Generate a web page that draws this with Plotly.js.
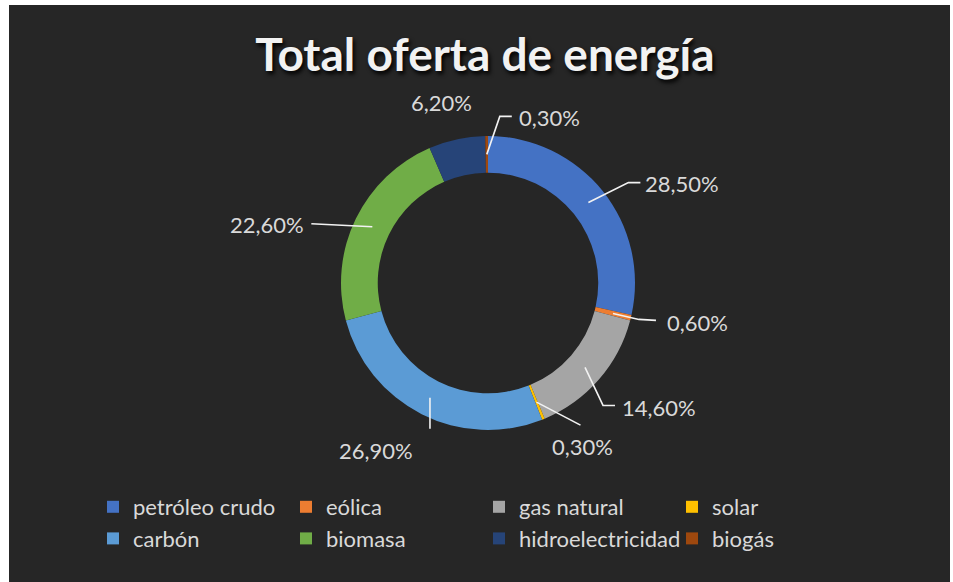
<!DOCTYPE html>
<html><head><meta charset="utf-8">
<script src="https://cdn.plot.ly/plotly-3.0.1.min.js"></script>
<style>html,body{margin:0;padding:0;background:#fff}</style>
</head><body><div id="chart" style="width:953px;height:582px"></div>
<script>
// ---- data ----
const categories = ["petróleo crudo","eólica","gas natural","solar","carbón","biomasa","hidroelectricidad","biogás"];
const values = [28.5, 0.6, 14.6, 0.3, 26.9, 22.6, 6.2, 0.3];
const sliceColors = ["#4472C4","#ED7D31","#A5A5A5","#FFC000","#5B9BD5","#70AD47","#264478","#9E480E"];
const chartTitle = "Total oferta de energía";

// ---- layout constants (pixels) ----
const W = 953, H = 582;
const cx = 488, cy = 283, R = 147, hole = 0.75;
// leader-line polyline offsets (from slice anchor) and text offset (from last point)
const labelStyle = [
  {pts:[[40,-20],[52,-20]], t:[3,1], xa:"left"},
  {pts:[[26,6],[43,7]], t:[9,2], xa:"left"},
  {pts:[[18,38],[30,38]], t:[5,2], xa:"left"},
  {pts:[[44,23]], t:[2,21], xa:"center"},
  {pts:[[0,31]], t:[-54,22], xa:"center"},
  {pts:[[-61,-3]], t:[-5,1], xa:"right"},
  {pts:[], t:[-19,-55], xa:"center"},
  {pts:[[13,-38],[25,-38]], t:[5,1], xa:"left"}
];

const px = x => x / W;
const py = y => 1 - y / H;

const total = values.reduce((a,b)=>a+b,0);
const rMid = R * (1 + hole) / 2;
const shapes = [{
  type:"rect", xref:"paper", yref:"paper", layer:"below",
  x0:px(9), x1:px(950), y0:0, y1:py(5),
  fillcolor:"#262626", line:{width:0}
}];
const annotations = [];
let cum = 0;
values.forEach((v,i)=>{
  const mid = (cum + v/2) / total * 2 * Math.PI;
  cum += v;
  const ax = cx + rMid * Math.sin(mid);
  const ay = cy - rMid * Math.cos(mid);
  const st = labelStyle[i];
  let last = [ax, ay];
  if (st.pts.length) {
    let d = "M" + px(ax) + "," + py(ay);
    st.pts.forEach(p=>{ last = [ax+p[0], ay+p[1]]; d += " L" + px(last[0]) + "," + py(last[1]); });
    shapes.push({type:"path", xref:"paper", yref:"paper", path:d, line:{color:"#f2f2f2", width:1.6}});
  }
  annotations.push({
    xref:"paper", yref:"paper", showarrow:false,
    x:px(last[0]+st.t[0]), y:py(last[1]+st.t[1]),
    xanchor:st.xa, yanchor:"middle",
    text:v.toFixed(2).replace(".", ",") + "%",
    font:{family:"Lato, sans-serif", size:22, color:"#d9d9d9"}
  });
});

const trace = {
  type:"pie", labels:categories, values:values, sort:false,
  direction:"clockwise", rotation:0, hole:hole,
  marker:{colors:sliceColors, line:{width:0}},
  textinfo:"none", hoverinfo:"label+percent",
  domain:{x:[px(cx-R), px(cx+R)], y:[py(cy+R), py(cy-R)]}
};

const layout = {
  width:W, height:H, margin:{l:0,r:0,t:0,b:0},
  paper_bgcolor:"#ffffff",
  title:{text:chartTitle, xref:"paper", yref:"paper", x:px(485), y:py(55), xanchor:"center", yanchor:"middle",
    font:{family:"Lato, sans-serif", size:46, color:"#f2f2f2", weight:"bold", shadow:"2px 3px 4px #000"}},
  showlegend:true,
  legend:{orientation:"h", x:px(93), y:py(486), xanchor:"left", yanchor:"top",
    font:{family:"Lato, sans-serif", size:22, color:"#d9d9d9"},
    entrywidth:148, entrywidthmode:"pixels", bgcolor:"rgba(0,0,0,0)", traceorder:"normal"},
  shapes:shapes, annotations:annotations
};

Plotly.newPlot("chart", [trace], layout, {displayModeBar:false, staticPlot:true});
</script></body></html>
